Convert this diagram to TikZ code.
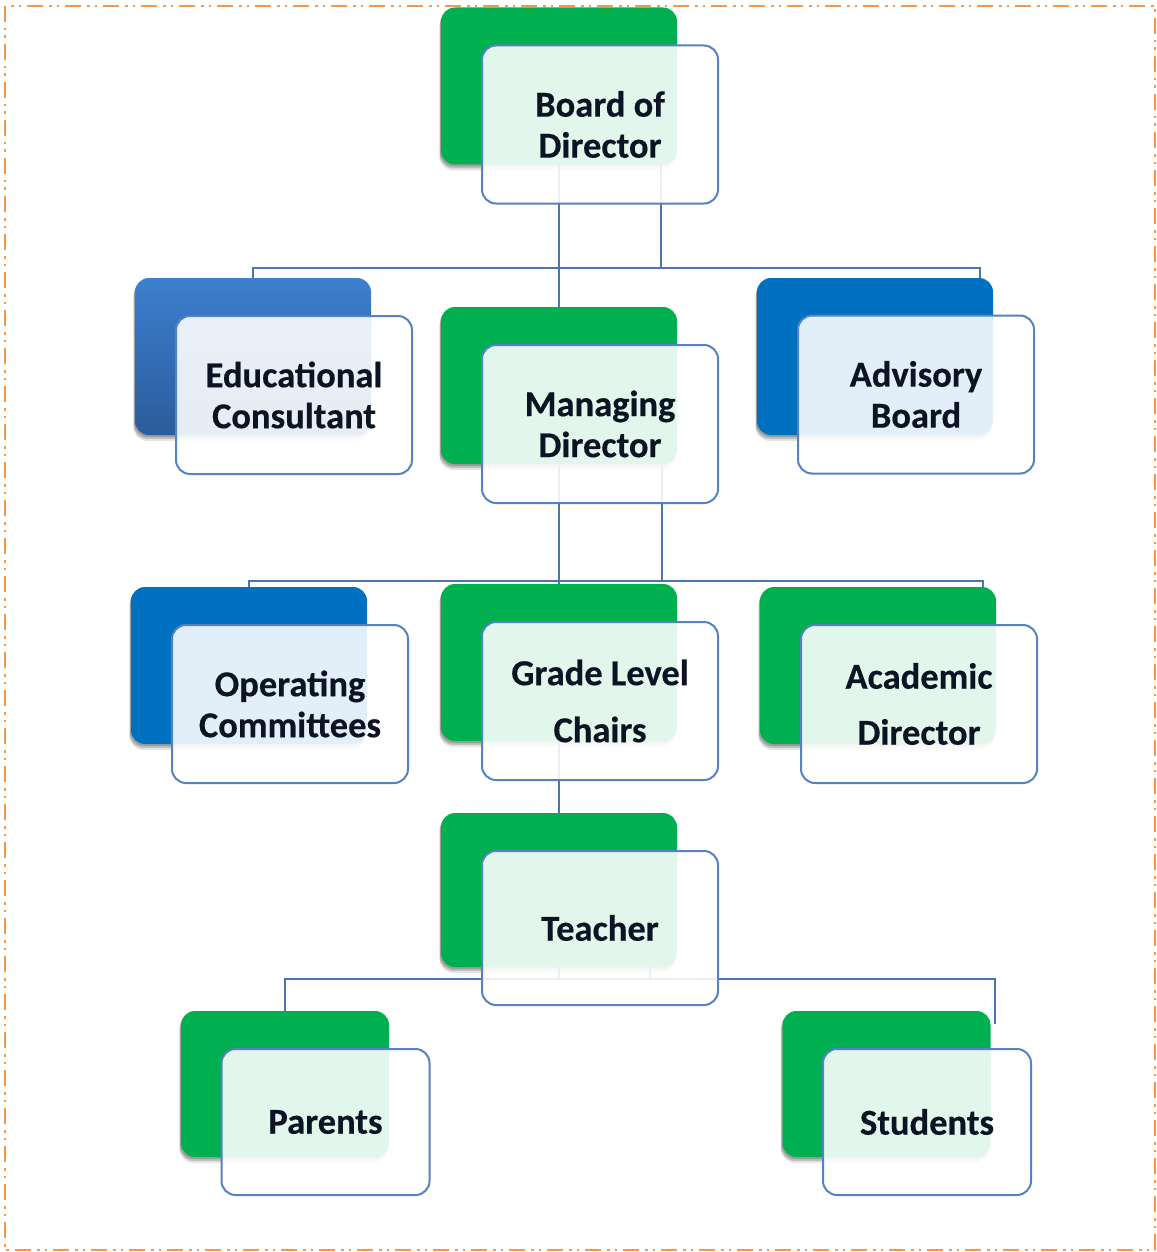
\documentclass[tikz,border=0pt]{standalone}
\usepackage{fontspec}
\setmainfont[BoldFeatures={FakeBold=0.4}]{Carlito}
\usetikzlibrary{shadows,calc}
\definecolor{grn}{HTML}{00B050}
\definecolor{blu}{HTML}{0070C0}
\definecolor{blutop}{HTML}{3D7FCF}
\definecolor{blubot}{HTML}{2B5C9B}
\definecolor{connc}{HTML}{4E74AD}
\definecolor{frm}{HTML}{5582C2}
\definecolor{brd}{HTML}{F79646}
\definecolor{txt}{HTML}{0C1424}
\tikzset{
  backbox/.style={rounded corners=14pt, minimum width=236pt, minimum height=157pt,
    inner sep=0pt, outer sep=0pt,
    general shadow={shadow xshift=-1.5pt, shadow yshift=-6pt, opacity=0.10, fill=black},
    general shadow={shadow xshift=-1.5pt, shadow yshift=-4pt, opacity=0.16, fill=black},
    general shadow={shadow xshift=-1pt, shadow yshift=-2pt, opacity=0.18, fill=black}},
  greenback/.style={backbox, fill=grn},
  blueback/.style={backbox, fill=blu},
  gradback/.style={backbox, top color=blutop, bottom color=blubot},
  frontbox/.style={rounded corners=14pt, draw=frm, line width=2pt, fill=white,
    fill opacity=0.89, text opacity=1, minimum width=236pt, minimum height=158pt,
    inner sep=0pt, outer sep=0pt, align=center, text=txt,
    font=\bfseries\fontsize{36.5}{41}\selectfont},
  smallbox/.style={minimum width=208pt, minimum height=146pt},
  conn/.style={draw=connc, line width=2pt},
  frame/.style={draw=brd, line width=2.3pt,
    dash pattern=on 16pt off 6pt on 2.5pt off 5pt on 2.5pt off 6pt}
}
\begin{document}
\begin{tikzpicture}[x=1pt,y=-1pt]
\useasboundingbox (0,0) rectangle (1156,1252);
\draw[frame] (5,6) rectangle (1155,1250);
% back boxes
\node[greenback] (bodB) at (559,86) {};
\node[gradback] (eduB) at (253,356.5) {};
\node[greenback] (mdB) at (559,385.5) {};
\node[blueback] (advB) at (875,356.5) {};
\node[blueback] (opB) at (249,665.5) {};
\node[greenback] (glcB) at (559,662.5) {};
\node[greenback] (acB) at (878,665.5) {};
\node[greenback, minimum height=154pt] (tchB) at (559,890) {};
\node[greenback, smallbox] (parB) at (285,1084) {};
\node[greenback, smallbox] (stuB) at (886.5,1084) {};
% connectors
\coordinate (h1R) at (980,268);
\coordinate (h2R) at (983,581);
\coordinate (h3R) at (995,979);
\coordinate (stEnd) at (995,1024);
\draw[conn] (bodB.south) -- (mdB.north);
\draw[conn] ($(bodB.south)+(102,0)$) -- ++(0,103);
\draw[conn] (eduB.north) -- (eduB.north |- h1R) -- (h1R) -- (h1R |- advB.north);
\draw[conn] (mdB.south) -- (glcB.north);
\draw[conn] ($(mdB.south)+(103,0)$) -- ++(0,117);
\draw[conn] (opB.north) -- (opB.north |- h2R) -- (h2R) -- (h2R |- acB.north);
\draw[conn] (glcB.south) -- (tchB.north);
\draw[conn] (tchB.south) -- ++(0,12);
\draw[conn] ($(tchB.south)+(91,0)$) -- ++(0,12);
\draw[conn] (parB.north) -- (parB.north |- h3R) -- (h3R) -- (stEnd);
% front boxes
\node[frontbox] (bod) at ($(bodB)+(41,38.5)$) {Board of\\Director};
\node[frontbox] (edu) at ($(eduB)+(41,38.5)$) {Educational\\Consultant};
\node[frontbox] (md) at ($(mdB)+(41,38.5)$) {Managing\\Director};
\node[frontbox] (adv) at ($(advB)+(41,38)$) {Advisory\\Board};
\node[frontbox] (op) at ($(opB)+(41,38.5)$) {Operating\\Committees};
\node[frontbox] (glc) at ($(glcB)+(41,38.5)$) {Grade Level\\[16pt]Chairs};
\node[frontbox] (ac) at ($(acB)+(41,38.5)$) {Academic\\[15pt]Director};
\node[frontbox, minimum height=154pt] (tch) at ($(tchB)+(41,38)$) {Teacher};
\node[frontbox, smallbox] (par) at ($(parB)+(40.5,38)$) {Parents};
\node[frontbox, smallbox] (stu) at ($(stuB)+(40.5,38)$) {Students};
\end{tikzpicture}
\end{document}
